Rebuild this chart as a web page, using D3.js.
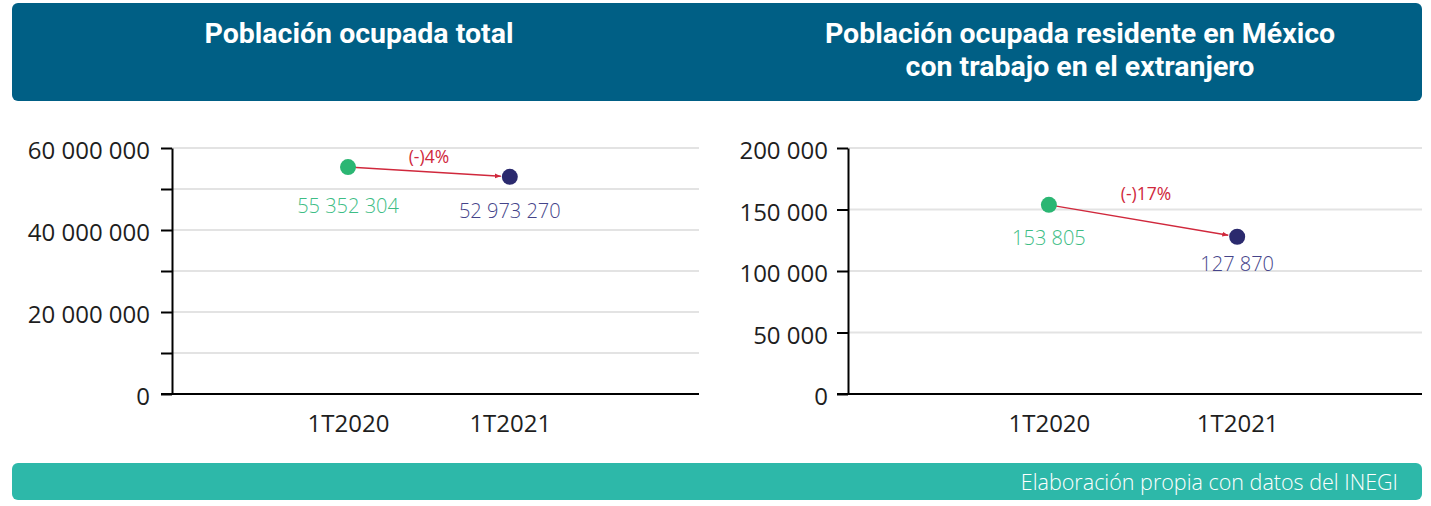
<!DOCTYPE html>
<html>
<head>
<meta charset="utf-8">
<script src="https://cdn.jsdelivr.net/npm/d3@7"></script>
<style>
  body { margin: 0; background: #fff; }
  svg { display: block; font-family: "Open Sans", sans-serif; }
</style>
</head>
<body>
<svg id="chart"></svg>
<script>
// data
const categories = ["1T2020", "1T2021"];
const totalValues = [55352304, 52973270];
const abroadValues = [153805, 127870];
const totalTicks = [0, 10000000, 20000000, 30000000, 40000000, 50000000, 60000000];
const totalLabelTicks = [0, 20000000, 40000000, 60000000];
const abroadTicks = [0, 50000, 100000, 150000, 200000];
const changeLabels = ["(-)4%", "(-)17%"];
const totalTitle = ["Población ocupada total"];
const abroadTitle = ["Población ocupada residente en México", "con trabajo en el extranjero"];
const sourceText = "Elaboración propia con datos del INEGI";

const pointColors = ["#2bb673", "#2b2a6e"];
const labelColors = ["#3dbd85", "#45448a"];
const arrowColor = "#d0283c";

const width = 1431, height = 506;
const plotTop = 148, plotBottom = 394;

const fmt = d3.formatLocale({ decimal: ".", thousands: " ", grouping: [3], currency: ["", ""] }).format(",d");

const svg = d3.select("#chart")
  .attr("width", width)
  .attr("height", height);

svg.append("defs").append("marker")
  .attr("id", "arrow")
  .attr("viewBox", "0 0 10 10")
  .attr("refX", 10)
  .attr("refY", 5)
  .attr("markerWidth", 6)
  .attr("markerHeight", 6)
  .attr("markerUnits", "userSpaceOnUse")
  .attr("orient", "auto")
  .append("path")
  .attr("d", "M0,1L10,5L0,9Z")
  .attr("fill", arrowColor);

// header band
svg.append("rect")
  .attr("x", 12).attr("y", 3)
  .attr("width", 1410).attr("height", 98)
  .attr("rx", 6)
  .attr("fill", "#005f85");

// footer band
svg.append("rect")
  .attr("x", 12).attr("y", 463)
  .attr("width", 1410).attr("height", 37)
  .attr("rx", 6)
  .attr("fill", "#2db8a9");

svg.append("text")
  .attr("x", 1398).attr("y", 490)
  .attr("text-anchor", "end")
  .attr("font-size", 21.5)
  .attr("font-weight", 300)
  .attr("fill", "#fff")
  .text(sourceText);

const charts = [
  {
    values: totalValues, ticks: totalTicks, labelTicks: totalLabelTicks, max: 60000000,
    change: changeLabels[0], title: totalTitle, titleX: 359,
    left: 172, right: 699, xPos: [0.334, 0.641],
    labelDy: [46, 41], changeDx: 0, changeDy: -9, tickPad: 11
  },
  {
    values: abroadValues, ticks: abroadTicks, labelTicks: abroadTicks, max: 200000,
    change: changeLabels[1], title: abroadTitle, titleX: 1080,
    left: 848, right: 1422, xPos: [0.35, 0.678],
    labelDy: [40, 34], changeDx: 3, changeDy: -21, tickPad: 9
  }
];

charts.forEach(c => {
  const g = svg.append("g");

  // title
  g.append("text")
    .attr("x", c.titleX)
    .attr("text-anchor", "middle")
    .attr("font-family", "Roboto, sans-serif")
    .attr("font-weight", 700)
    .attr("font-size", 28.5)
    .attr("fill", "#fff")
    .selectAll("tspan")
    .data(c.title)
    .join("tspan")
    .attr("x", c.titleX)
    .attr("y", (d, i) => 43 + i * 33)
    .text(d => d);

  const w = c.right - c.left;
  const x = d3.scalePoint()
    .domain(categories)
    .range([c.left + w * c.xPos[0], c.left + w * c.xPos[1]]);
  const y = d3.scaleLinear()
    .domain([0, c.max])
    .range([plotBottom, plotTop]);

  // gridlines
  g.append("g")
    .selectAll("line")
    .data(c.ticks.filter(t => t > 0))
    .join("line")
    .attr("x1", c.left)
    .attr("x2", c.right)
    .attr("y1", d => y(d))
    .attr("y2", d => y(d))
    .attr("stroke", "#e3e3e3")
    .attr("stroke-width", 2);

  // y axis
  g.append("g")
    .attr("transform", "translate(" + c.left + ",0)")
    .call(d3.axisLeft(y)
      .tickValues(c.ticks)
      .tickSize(11)
      .tickSizeOuter(0)
      .tickPadding(c.tickPad)
      .tickFormat(d => c.labelTicks.includes(d) ? fmt(d) : ""))
    .attr("font-family", null)
    .attr("font-size", null)
    .call(a => a.select(".domain").attr("stroke", "#000").attr("stroke-width", 2))
    .call(a => a.selectAll(".tick line").attr("stroke", "#000").attr("stroke-width", 2))
    .call(a => a.selectAll(".tick text")
      .attr("font-size", 24)
      .attr("fill", "#1e1e1e")
      .attr("dy", "0.45em"));

  // baseline
  g.append("line")
    .attr("x1", c.left - 11)
    .attr("x2", c.right)
    .attr("y1", y(0))
    .attr("y2", y(0))
    .attr("stroke", "#000")
    .attr("stroke-width", 2);

  // x axis labels
  g.append("g")
    .attr("transform", "translate(0," + y(0) + ")")
    .call(d3.axisBottom(x).tickSize(0).tickPadding(21))
    .attr("font-family", null)
    .attr("font-size", null)
    .call(a => a.select(".domain").remove())
    .call(a => a.selectAll(".tick text")
      .attr("font-size", 24)
      .attr("fill", "#1e1e1e"));

  const pts = categories.map((cat, i) => ({ cat, v: c.values[i], px: x(cat), py: y(c.values[i]), i }));
  const r = 8;

  // arrow between the two points
  const a = pts[0], b = pts[1];
  const len = Math.hypot(b.px - a.px, b.py - a.py);
  const ux = (b.px - a.px) / len, uy = (b.py - a.py) / len;
  g.append("line")
    .attr("x1", a.px)
    .attr("y1", a.py)
    .attr("x2", b.px - ux * (r + 1))
    .attr("y2", b.py - uy * (r + 1))
    .attr("stroke", arrowColor)
    .attr("stroke-width", 1.4)
    .attr("marker-end", "url(#arrow)");

  g.append("text")
    .attr("x", (a.px + b.px) / 2 + c.changeDx)
    .attr("y", (a.py + b.py) / 2 + c.changeDy)
    .attr("text-anchor", "middle")
    .attr("font-size", 17.5)
    .attr("fill", arrowColor)
    .text(c.change);

  // points
  g.selectAll("circle")
    .data(pts)
    .join("circle")
    .attr("cx", d => d.px)
    .attr("cy", d => d.py)
    .attr("r", r)
    .attr("fill", d => pointColors[d.i]);

  // value labels
  g.selectAll(".val")
    .data(pts)
    .join("text")
    .attr("class", "val")
    .attr("x", d => d.px)
    .attr("y", d => d.py + c.labelDy[d.i])
    .attr("text-anchor", "middle")
    .attr("font-size", 20)
    .attr("font-weight", 300)
    .attr("fill", d => labelColors[d.i])
    .text(d => fmt(d.v));
});
</script>
</body>
</html>
